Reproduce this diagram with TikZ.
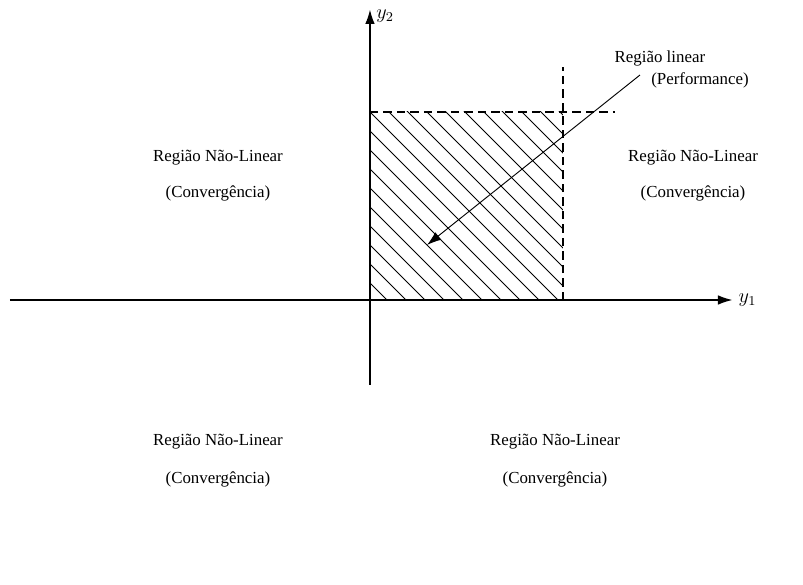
\documentclass[tikz,border=0pt]{standalone}
\usepackage{fontspec}
\setmainfont{Liberation Serif}
\usetikzlibrary{arrows.meta}

\begin{document}
\begin{tikzpicture}[font=\normalsize, >={Latex[length=3mm,width=2mm]},
    region/.style={align=center},
    limit/.style={thick, dash pattern=on 5pt off 3pt}]
\useasboundingbox (-7.708,-5.9375) rectangle (9.021,6.25);

% axes
\coordinate (xl) at (-7.5,0);
\coordinate (xr) at (7.55,0);
\coordinate (yb) at (0,-1.77);
\coordinate (yt) at (0,6.05);
\draw[->, thick] (xl) -- (xr) node[right] (ya) {\large $y_1$};
\draw[->, thick] (yb) -- (yt) node[right, yshift=-4pt] (yb2) {\large $y_2$};

% hatched linear region
\coordinate (lo) at (0,0);
\coordinate (hi) at (4.02,3.917);
\begin{scope}
  \clip (lo) rectangle (hi);
  \foreach \k in {-10,...,10}
    \draw[line width=0.55pt] ({3.917+0.396*\k-4},4) -- ({3.917+0.396*\k+0.2},-0.2);
\end{scope}
\draw[limit] (4.02,0) -- (4.02,4.854);
\draw[limit] (0,3.917) -- (5.10,3.917);

% labels
\node (lin)  at (6.04,5.04) {Região linear};
\node (perf) at (6.875,4.58) {(Performance)};
\coordinate (arrs) at (5.625,4.6875);
\coordinate (arre) at (1.1875,1.146);
\draw[->, line width=0.55pt] (arrs) -- (arre);

\node[region] (tl)  at (-3.167,2.958) {Região Não-Linear};
\node[region] (tlc) at (-3.167,2.229) {(Convergência)};
\node[region] (tr)  at (6.73,2.958) {Região Não-Linear};
\node[region] (trc) at (6.73,2.229) {(Convergência)};
\node[region] (bl)  at (-3.167,-2.958) {Região Não-Linear};
\node[region] (blc) at (-3.167,-3.729) {(Convergência)};
\node[region] (br)  at (3.854,-2.958) {Região Não-Linear};
\node[region] (brc) at (3.854,-3.729) {(Convergência)};
\end{tikzpicture}
\end{document}
